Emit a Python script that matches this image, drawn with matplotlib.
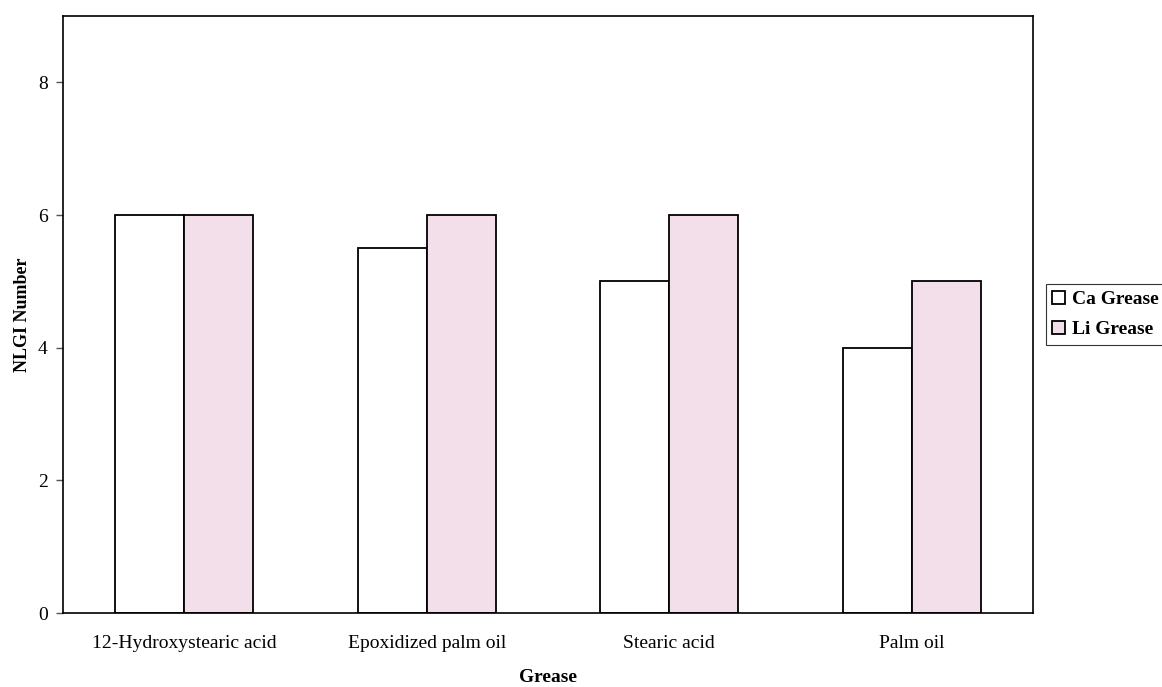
import matplotlib
matplotlib.use("Agg")
import matplotlib.pyplot as plt
import numpy as np

categories = ["12-Hydroxystearic acid", "Epoxidized palm oil", "Stearic acid", "Palm oil"]
ca_grease = [6, 5.5, 5, 4]
li_grease = [6, 6, 6, 5]
series_names = ["Ca Grease", "Li Grease"]
y_ticks = [0, 2, 4, 6, 8]

plt.rcParams["font.family"] = ["Liberation Serif", "DejaVu Serif"]

fig = plt.figure(figsize=(11.62, 6.87), dpi=100)
ax = fig.add_axes([0.0542, 0.1077, 0.8348, 0.869])

x = np.arange(len(categories))
w = 0.285
ax.bar(x - w / 2, ca_grease, w, facecolor="white", edgecolor="black", linewidth=1.3,
       label=series_names[0])
ax.bar(x + w / 2, li_grease, w, facecolor="#f3dfe9", edgecolor="black", linewidth=1.3,
       label=series_names[1])

ax.set_xlim(-0.5, len(categories) - 0.5)
ax.set_ylim(0, 9)
ax.set_yticks(y_ticks)
ax.set_xticks(x)
ax.set_xticklabels(categories, fontsize=14)
ax.tick_params(axis="x", length=0, pad=16)
ax.tick_params(axis="y", length=5, width=1, color="#555555", labelsize=14, pad=6)
for s in ax.spines.values():
    s.set_linewidth(1.2)

ax.set_xlabel("Grease", fontsize=14, fontweight="bold", labelpad=12)
ax.set_ylabel("NLGI Number", fontsize=13, fontweight="bold", labelpad=5)

leg = ax.legend(loc="center left", bbox_to_anchor=(1.013, 0.5), frameon=True,
                fancybox=False, edgecolor="black", handlelength=0.65, handleheight=0.65,
                handletextpad=0.35, borderpad=0.35, borderaxespad=0, labelspacing=0.65,
                prop={"weight": "bold", "size": 14})
leg.get_frame().set_linewidth(0.8)

fig.savefig("out.png", dpi=100)
